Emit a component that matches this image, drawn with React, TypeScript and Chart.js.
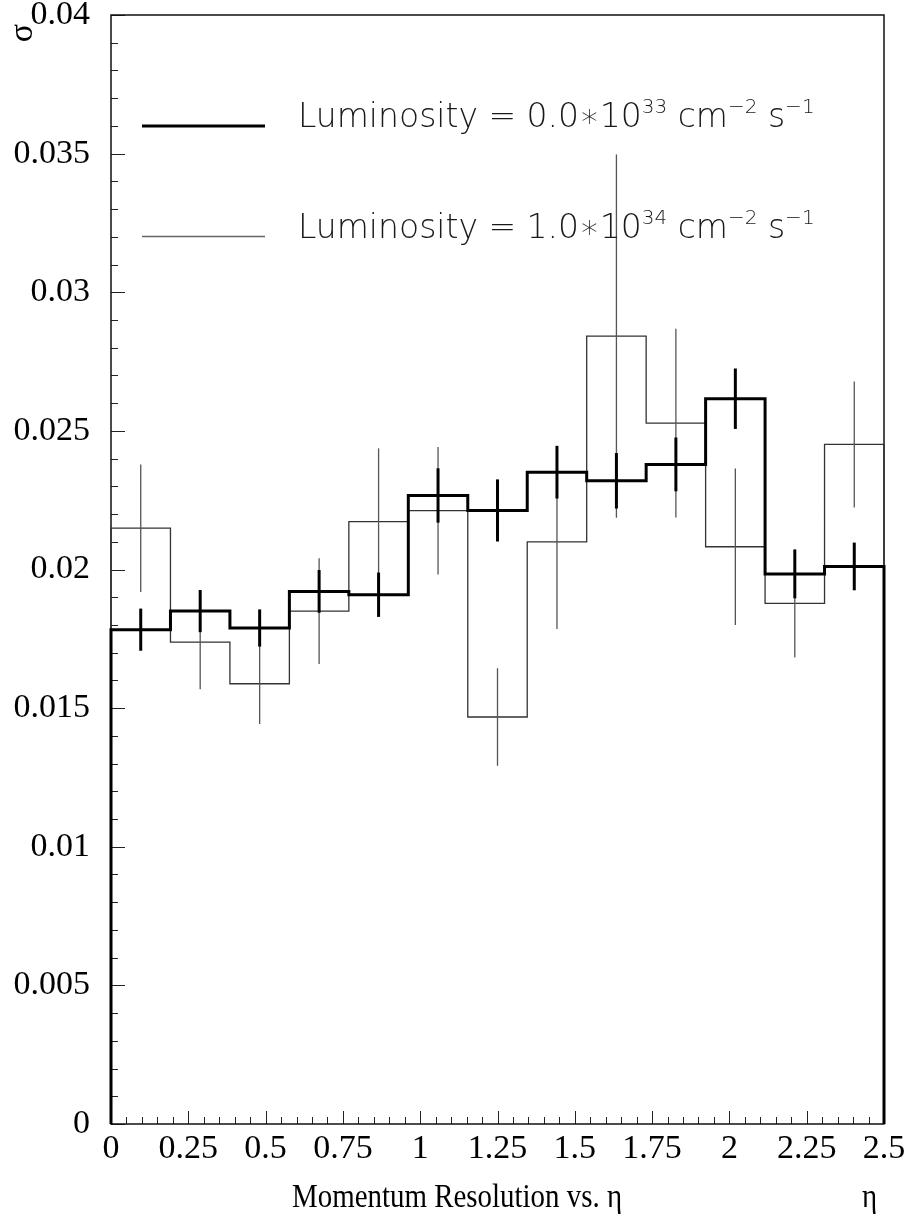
import React, { useEffect, useRef } from "react";
import { Chart, registerables } from "chart.js";

Chart.register(...registerables);

// ---- data ----
const X_MIN = 0;
const X_MAX = 2.5;
const N_BINS = 13;
const Y_MIN = 0;
const Y_MAX = 0.04;
const Y_TICK_STEP = 0.005;
const X_TICK_STEP = 0.25;

// Luminosity = 0.0*10^33 (thick)
const lowLumiValues = [0.01783, 0.0185, 0.01789, 0.01921, 0.01909, 0.02267, 0.02213, 0.02351, 0.0232, 0.02379, 0.02616, 0.01984, 0.02011];
const lowLumiErrors = [0.00076, 0.00076, 0.00067, 0.00077, 0.0008, 0.00098, 0.00112, 0.00095, 0.001, 0.00097, 0.00109, 0.00088, 0.00086];

// Luminosity = 1.0*10^34 (thin)
const highLumiValues = [0.02149, 0.01738, 0.01588, 0.0185, 0.02173, 0.02212, 0.01468, 0.021, 0.02842, 0.02528, 0.02082, 0.01878, 0.02451];
const highLumiErrors = [0.0023, 0.0017, 0.00145, 0.00191, 0.00264, 0.0023, 0.00176, 0.00315, 0.00655, 0.0034, 0.00282, 0.00195, 0.00227];

const legendLow = [
  { t: "Luminosity = 0.0\u221710", sup: false },
  { t: "33", sup: true },
  { t: " cm", sup: false },
  { t: "\u22122", sup: true },
  { t: " s", sup: false },
  { t: "\u22121", sup: true },
];
const legendHigh = [
  { t: "Luminosity = 1.0\u221710", sup: false },
  { t: "34", sup: true },
  { t: " cm", sup: false },
  { t: "\u22122", sup: true },
  { t: " s", sup: false },
  { t: "\u22121", sup: true },
];
const xTitle = "Momentum Resolution vs. \u03b7";
const xUnitLabel = "\u03b7";
const yTitle = "\u03c3";

// ---- helpers ----
const binWidth = (X_MAX - X_MIN) / N_BINS;
const edges = Array.from({ length: N_BINS + 1 }, (_, i) => X_MIN + i * binWidth);
const centers = Array.from({ length: N_BINS }, (_, i) => X_MIN + (i + 0.5) * binWidth);

function outline(values: number[]) {
  const pts: { x: number; y: number }[] = [{ x: edges[0], y: 0 }];
  values.forEach((v, i) => pts.push({ x: edges[i], y: v }));
  pts.push({ x: edges[N_BINS], y: values[N_BINS - 1] });
  pts.push({ x: edges[N_BINS], y: 0 });
  return pts;
}

const SERIF = '"Liberation Serif", "Times New Roman", serif';
const SANS = '"DejaVu Sans", "Noto Sans", sans-serif';

const framePlugin = {
  id: "frame",
  beforeDatasetsDraw(chart: any) {
    const { ctx, chartArea: a, scales } = chart;
    const xs = scales.x;
    const ys = scales.y;
    ctx.save();
    ctx.strokeStyle = "#222";
    ctx.lineWidth = 1;
    for (let k = 0; k <= 40; k++) {
      const v = Y_MIN + k * 0.001;
      const py = Math.round(ys.getPixelForValue(v)) + 0.5;
      const len = k % 5 === 0 ? 14 : 7;
      ctx.beginPath();
      ctx.moveTo(a.left, py);
      ctx.lineTo(a.left + len, py);
      ctx.stroke();
    }
    for (let k = 0; k <= 50; k++) {
      const v = X_MIN + k * 0.05;
      const px = Math.round(xs.getPixelForValue(v)) + 0.5;
      const len = k % 5 === 0 ? 13 : 7;
      ctx.beginPath();
      ctx.moveTo(px, a.bottom);
      ctx.lineTo(px, a.bottom - len);
      ctx.stroke();
    }
    ctx.lineWidth = 1.5;
    ctx.strokeStyle = "#111";
    ctx.strokeRect(a.left, a.top, a.right - a.left, a.bottom - a.top);
    ctx.restore();
  },
  afterDatasetsDraw(chart: any) {
    const { ctx, scales } = chart;
    const xs = scales.x;
    const ys = scales.y;
    ctx.save();
    const drawErr = (vals: number[], errs: number[], color: string, w: number) => {
      ctx.strokeStyle = color;
      ctx.lineWidth = w;
      vals.forEach((v, i) => {
        const px = xs.getPixelForValue(centers[i]);
        ctx.beginPath();
        ctx.moveTo(px, ys.getPixelForValue(v - errs[i]));
        ctx.lineTo(px, ys.getPixelForValue(v + errs[i]));
        ctx.stroke();
      });
    };
    drawErr(highLumiValues, highLumiErrors, "#555", 1.3);
    drawErr(lowLumiValues, lowLumiErrors, "#000", 3);
    ctx.restore();
  },
  afterDraw(chart: any) {
    const { ctx, chartArea: a } = chart;
    ctx.save();
    const drawRich = (parts: { t: string; sup: boolean }[], x: number, base: number) => {
      let cx = x;
      ctx.fillStyle = "#1a1a1a";
      ctx.textBaseline = "alphabetic";
      ctx.textAlign = "left";
      for (const p of parts) {
        ctx.font = p.sup ? `200 20px ${SANS}` : `200 33px ${SANS}`;
        ctx.fillText(p.t, cx, p.sup ? base - 14 : base);
        cx += ctx.measureText(p.t).width;
      }
    };
    ctx.strokeStyle = "#000";
    ctx.lineWidth = 3;
    ctx.beginPath();
    ctx.moveTo(a.left + 31, 126);
    ctx.lineTo(a.left + 154, 126);
    ctx.stroke();
    ctx.strokeStyle = "#666";
    ctx.lineWidth = 1.3;
    ctx.beginPath();
    ctx.moveTo(a.left + 31, 236.5);
    ctx.lineTo(a.left + 154, 236.5);
    ctx.stroke();
    drawRich(legendLow, 298, 127);
    drawRich(legendHigh, 298, 238);

    // x title (condensed serif to fit its span)
    ctx.fillStyle = "#000";
    ctx.textAlign = "left";
    ctx.textBaseline = "alphabetic";
    ctx.font = `34px ${SERIF}`;
    const w = ctx.measureText(xTitle).width;
    const sx = 330 / w;
    ctx.save();
    ctx.translate(292, 1207);
    ctx.scale(sx, 1);
    ctx.fillText(xTitle, 0, 0);
    ctx.restore();
    ctx.save();
    ctx.translate(862, 1207);
    ctx.scale(sx, 1);
    ctx.fillText(xUnitLabel, 0, 0);
    ctx.restore();

    // y title: rotated sigma
    ctx.save();
    ctx.translate(32, 33);
    ctx.rotate(-Math.PI / 2);
    ctx.textAlign = "center";
    ctx.textBaseline = "alphabetic";
    ctx.font = `34px ${SERIF}`;
    ctx.fillText(yTitle, 0, 0);
    ctx.restore();
    ctx.restore();
  },
};

export default function App() {
  const ref = useRef<HTMLCanvasElement | null>(null);
  useEffect(() => {
    if (!ref.current) return;
    const chart = new Chart(ref.current, {
      type: "line",
      data: {
        datasets: [
          {
            label: "low",
            data: outline(lowLumiValues),
            stepped: true,
            borderColor: "#000",
            borderWidth: 3,
            pointRadius: 0,
            fill: false,
            clip: false as any,
          },
          {
            label: "high",
            data: outline(highLumiValues),
            stepped: true,
            borderColor: "#333",
            borderWidth: 1.3,
            pointRadius: 0,
            fill: false,
            clip: false as any,
          },
        ],
      },
      plugins: [framePlugin],
      options: {
        animation: false,
        responsive: true,
        maintainAspectRatio: false,
        parsing: false as any,
        layout: { padding: { left: 0, top: 15, right: 25, bottom: 0 } },
        plugins: { legend: { display: false }, tooltip: { enabled: false } },
        scales: {
          x: {
            type: "linear",
            min: X_MIN,
            max: X_MAX,
            grid: { display: false, drawTicks: false },
            border: { display: false },
            ticks: {
              stepSize: X_TICK_STEP,
              autoSkip: false,
              maxRotation: 0,
              padding: 5,
              color: "#000",
              font: { family: SERIF, size: 34 },
              callback: (v: any) => String(Number(Number(v).toFixed(2))),
            },
            afterFit: (s: any) => {
              s.height = 96;
              s.paddingLeft = 0;
              s.paddingRight = 0;
            },
          },
          y: {
            type: "linear",
            min: Y_MIN,
            max: Y_MAX,
            grid: { display: false, drawTicks: false },
            border: { display: false },
            ticks: {
              stepSize: Y_TICK_STEP,
              autoSkip: false,
              padding: 21,
              color: "#000",
              font: { family: SERIF, size: 34 },
              callback: (v: any) => String(Number(Number(v).toFixed(3))),
            },
            afterFit: (s: any) => {
              s.width = 111;
              s.paddingTop = 0;
              s.paddingBottom = 0;
            },
          },
        },
      },
    });
    return () => chart.destroy();
  }, []);
  return (
    <div style={{ position: "absolute", left: 0, top: 0, width: 909, height: 1220, background: "#fff" }}>
      <canvas ref={ref} />
    </div>
  );
}
